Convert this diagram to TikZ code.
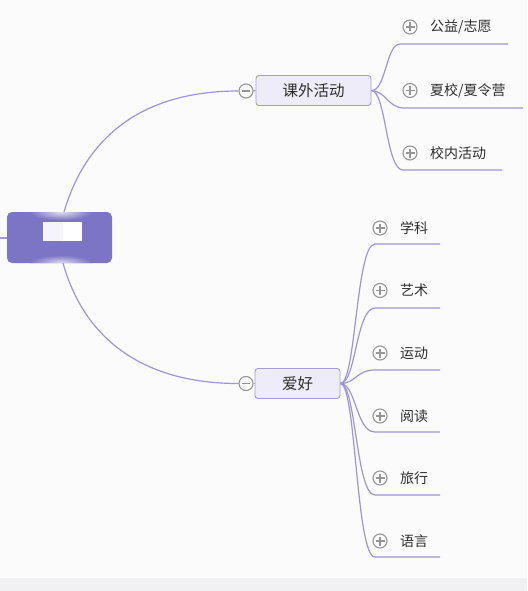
\documentclass[tikz,border=0pt]{standalone}
\usepackage{fontspec}
\newfontfamily\cjk{Noto Sans CJK SC}
\definecolor{bg}{HTML}{FBFBFB}
\definecolor{strip}{HTML}{F1F1F3}
\definecolor{lin}{HTML}{9D95D4}
\definecolor{rootc}{HTML}{7C74C4}
\definecolor{boxfill}{HTML}{EEECF8}
\definecolor{boxline}{HTML}{A49CD6}
\definecolor{txt}{HTML}{2E2E2E}
\definecolor{tog}{HTML}{959595}
\begin{document}
\begin{tikzpicture}[x=1pt,y=-1pt,
  conn/.style={draw=lin,line width=1.2pt},
  mainbox/.style={draw=boxline,fill=boxfill,rounded corners=3pt,line width=0.9pt,
    minimum height=30pt,inner sep=0pt,font=\cjk\fontsize{15.5}{17}\selectfont,text=txt},
  leaf/.style={font=\cjk\fontsize{14}{16}\selectfont,text=txt,anchor=west,inner sep=0pt},
  togc/.style={circle,draw=tog,line width=1.1pt,minimum size=14pt,inner sep=0pt,fill=bg},
  togl/.style={draw=tog,line width=1.1pt}]
\useasboundingbox (0,0) rectangle (527,591);
\fill[bg] (0,0) rectangle (527,591);
\fill[strip] (0,578) rectangle (527,591);

% root
\node[rounded corners=5pt,fill=rootc,minimum width=105pt,minimum height=51pt,inner sep=0pt] (root) at (59.5,237.5) {};
\begin{scope}
\clip[rounded corners=5pt] (7,212) rectangle (112,263);
\shade[inner color=white!75!rootc,outer color=rootc] (30,204) rectangle (92,220);
\shade[inner color=white!75!rootc,outer color=rootc] (30,255) rectangle (92,271);
\end{scope}
\fill[white!92!rootc] (43,222) rectangle (63,241);
\fill[white] (63,222) rectangle (82,241);
\coordinate (lft) at (0,238);
\draw[conn] (lft) -- (root.west |- lft);

% level 1
\node[mainbox,minimum width=115pt] (kw) at (313.5,90.5) {课外活动};
\node[mainbox,minimum width=85pt] (ah) at (297.5,383.5) {爱好};
\node[togc] (kwt) at (246,91) {};
\node[togc] (aht) at (246,383.5) {};
\draw[togl] ([xshift=-4pt]kwt.center) -- ([xshift=4pt]kwt.center);
\draw[togl] ([xshift=-4pt]aht.center) -- ([xshift=4pt]aht.center);
\draw[conn] (kwt.east) -- (kw.west);
\draw[conn] (aht.east) -- (ah.west);

\coordinate (rt) at (64,212);
\coordinate (rb) at (63,263);
\draw[conn] (rt) .. controls (88,130) and (150,91) .. (kwt.west);
\draw[conn] (rb) .. controls (86,345) and (150,383.5) .. (aht.west);

% children of 课外活动
\newcommand{\plusc}[2]{%
  \node[togc] (#1) at #2 {};
  \draw[togl] ([xshift=-4.5pt]#1.center) -- ([xshift=4.5pt]#1.center)
     ([yshift=-4.5pt]#1.center) -- ([yshift=4.5pt]#1.center);}

\plusc{p1}{(410,27)}
\node[leaf] (c1) at (430,27) {公益/志愿};
\plusc{p2}{(410,90.5)}
\node[leaf] (c2) at (430,90.5) {夏校/夏令营};
\plusc{p3}{(410,153)}
\node[leaf] (c3) at (430,153) {校内活动};

\coordinate (c1a) at (400,44);  \coordinate (c1b) at (508,44);
\coordinate (c2a) at (404,108); \coordinate (c2b) at (523,108);
\coordinate (c3a) at (403,170); \coordinate (c3b) at (502,170);
\draw[conn] (kw.east) .. controls (386,91) and (386,44) .. (c1a) -- (c1b);
\draw[conn] (kw.east) .. controls (386,91) and (388,108) .. (c2a) -- (c2b);
\draw[conn] (kw.east) .. controls (386,91) and (386,170) .. (c3a) -- (c3b);

% children of 爱好
\foreach \n/\t/\yt/\yl in {d1/学科/228/244, d2/艺术/290.5/308, d3/运动/353/370,
                          d4/阅读/416/432, d5/旅行/478/495, d6/语言/541/557}{
  \plusc{q\n}{(380,\yt)}
  \node[leaf] (\n) at (400,\yt) {\t};
  \coordinate (\n a) at (375,\yl);
  \coordinate (\n b) at (440,\yl);
  \draw[conn] (ah.east) .. controls (356,383.5) and (356,\yl) .. (\n a) -- (\n b);
}
\end{tikzpicture}
\end{document}
